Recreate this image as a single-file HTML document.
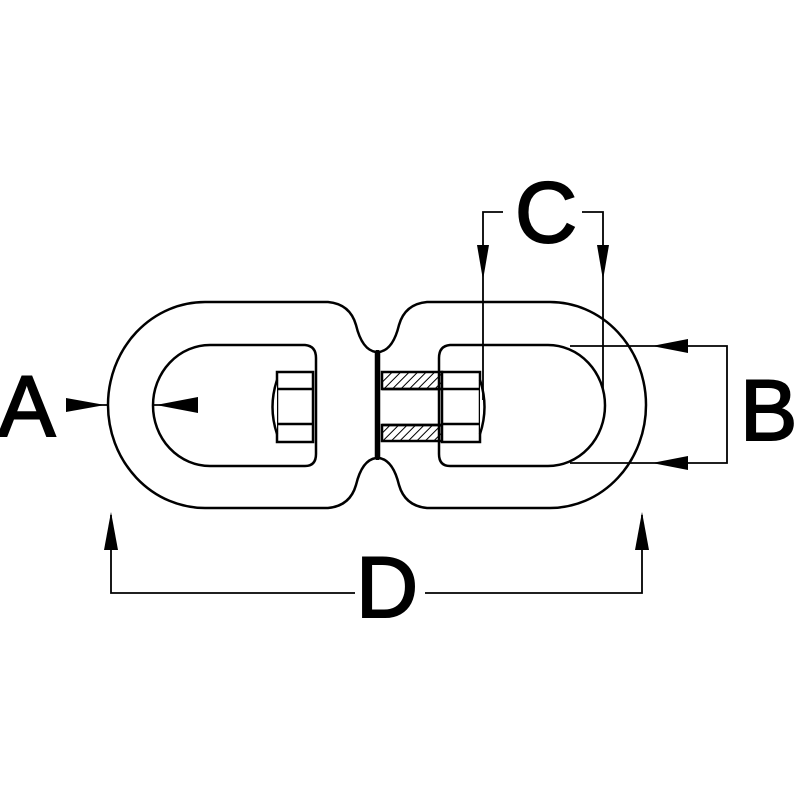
<!DOCTYPE html>
<html><head><style>
html,body{margin:0;padding:0;background:#fff;}
svg{display:block;}
text{font-family:"Liberation Sans",sans-serif;font-size:86px;fill:#000;stroke:#000;stroke-width:2;}
</style></head><body>
<svg width="800" height="800" viewBox="0 0 800 800" xmlns="http://www.w3.org/2000/svg">
<defs>
<pattern id="h" width="6" height="6" patternUnits="userSpaceOnUse" patternTransform="rotate(45)">
<line x1="0" y1="0" x2="0" y2="6" stroke="#000" stroke-width="2"/>
</pattern>
</defs>
<g fill="none" stroke="#000" stroke-width="2.5">
<path d="M205,302 L328,302 Q350,304 356,325 Q362,350 376,352 L376,458 Q362,460 356,485 Q350,506 328,508 L205,508 A97,103 0 0 1 205,302 Z"/>
<path d="M210,345 L305,345 Q316,346 316,358 L316,454 Q316,466 305,466 L210,466 A57,60.5 0 0 1 210,345 Z"/>
<path d="M550,302 L427,302 Q405,304 399,325 Q393,350 379,352 L379,458 Q393,460 399,485 Q405,506 427,508 L550,508 A96,103 0 0 0 550,302 Z"/>
<path d="M548,345 L450,345 Q439,346 439,358 L439,454 Q439,466 450,466 L548,466 A57,60.5 0 0 0 548,345 Z"/>
</g>
<line x1="377.5" y1="350" x2="377.5" y2="460" stroke="#000" stroke-width="3.5"/>
<g fill="#fff" stroke="#000" stroke-width="2.5">
<rect x="277" y="372" width="36" height="70"/>
<line x1="277" y1="389" x2="313" y2="389"/>
<line x1="277" y1="424" x2="313" y2="424"/>
<path d="M277,380 Q268,407 277,434"/>
<rect x="382" y="372" width="60" height="17" fill="url(#h)"/>
<rect x="382" y="425" width="60" height="16" fill="url(#h)"/>
<line x1="382" y1="389" x2="442" y2="389"/>
<line x1="382" y1="425" x2="442" y2="425"/>
<rect x="442" y="372" width="38" height="70"/>
<line x1="442" y1="389" x2="480" y2="389"/>
<line x1="442" y1="424" x2="480" y2="424"/>
<path d="M480,380 Q489,407 480,434"/>
</g>
<g stroke="#000" stroke-width="1.8" fill="none">
<line x1="85" y1="405" x2="108" y2="405"/>
<line x1="154" y1="405" x2="180" y2="405"/>
<polyline points="483,400 483,212 503,212"/>
<polyline points="582,212 603,212 603,390"/>
<polyline points="570,346 727,346 727,463 570,463"/>
<polyline points="111,515 111,593 355,593"/>
<polyline points="425,593 642,593 642,515"/>
</g>
<g fill="#000">
<polygon points="66,398 66,412 105,405"/>
<polygon points="198,397 198,413 156,405"/>
<polygon points="477,245 489,245 483,280"/>
<polygon points="597,245 609,245 603,280"/>
<polygon points="688,339 688,353 652,346"/>
<polygon points="688,456 688,470 652,463"/>
<polygon points="104,550 118,550 111,512"/>
<polygon points="635,550 649,550 642,512"/>
</g>
<text x="-2" y="436">A</text>
<text x="740" y="440">B</text>
<text x="515" y="242">C</text>
<text x="356" y="617">D</text>
</svg>
</body></html>
